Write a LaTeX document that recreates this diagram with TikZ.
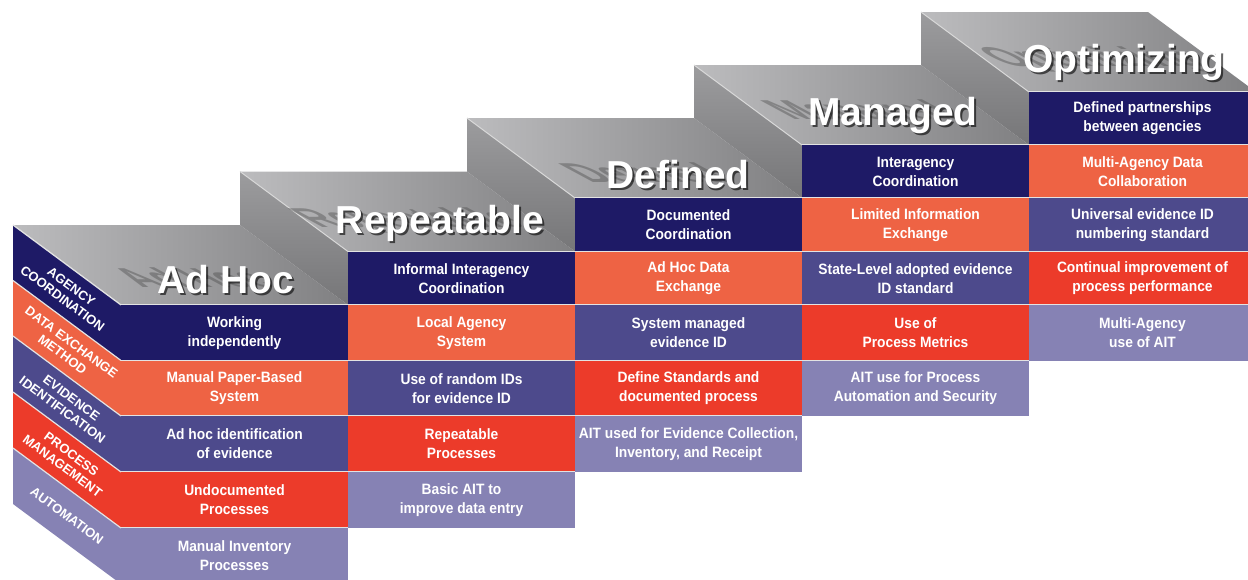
\documentclass[tikz,border=0pt]{standalone}
\usepackage{fontspec}
\setmainfont{Liberation Sans}
\newfontfamily\narrowsans[FakeStretch=0.92]{Liberation Sans}
\usetikzlibrary{positioning}

\definecolor{coordnavy}{RGB}{30,26,102}
\definecolor{datacoral}{RGB}{238,99,68}
\definecolor{idslate}{RGB}{77,74,140}
\definecolor{procred}{RGB}{236,59,42}
\definecolor{autolilac}{RGB}{134,130,180}
\definecolor{stairlight}{RGB}{188,188,190}
\definecolor{stairdark}{RGB}{128,128,130}
\definecolor{risertop}{RGB}{156,156,158}
\definecolor{riserbottom}{RGB}{118,118,120}
\definecolor{ghostgray}{RGB}{70,70,70}

% y levels of the row edges, top to bottom
\newcommand\stairlevels{{92,145,198,251.5,305,360.5,416,472,528,584}}

\tikzset{
  cell/.style={minimum width=227pt, inner sep=0pt, text=white, align=center,
    font=\narrowsans\bfseries\fontsize{15}{19}\selectfont},
  row0/.style={fill=coordnavy},
  row1/.style={fill=datacoral},
  row2/.style={fill=idslate},
  row3/.style={fill=procred},
  row4/.style={fill=autolilac},
  side/.style={text=white, align=center, rotate=-36.5,
    font=\bfseries\fontsize{13}{15}\selectfont},
  title/.style={anchor=base, text=white, font=\bfseries\fontsize{39}{40}\selectfont},
  sep/.style={draw=white!78!gray, line width=1.2pt},
  edge/.style={draw=white!70!gray, line width=1pt},
}

\begin{document}
\begin{tikzpicture}[x=1pt, y=-1pt]
\useasboundingbox (0,0) rectangle (1248,579);
\clip (0,0) rectangle (1248,579);
% stair tops and risers
\foreach \k in {0,...,4}{
  \pgfmathsetmacro\xa{121+227*\k}
  \pgfmathsetmacro\yt{\stairlevels[4-\k]}
  \pgfmathsetmacro\yp{\stairlevels[5-\k]}
  \shade[left color=stairlight, right color=stairdark]
    (\xa,\yt) -- ++(227,0) -- ++(-108,-80) -- ++(-227,0) -- cycle;
  \ifnum\k>0
    \shade[top color=risertop, bottom color=riserbottom]
      (\xa,\yt) -- (\xa,\yp) -- ++(-108,-80) -- (\xa-108,\yt-80) -- cycle;
  \fi
  \draw[edge] (\xa-108,\yt-80) -- (\xa,\yt);
}
% left face
\foreach \r/\txt in {0/{AGENCY\\COORDINATION}, 1/{DATA EXCHANGE\\METHOD},
    2/{EVIDENCE\\IDENTIFICATION}, 3/{PROCESS\\MANAGEMENT}, 4/{AUTOMATION}}{
  \pgfmathsetmacro\ya{\stairlevels[4+\r]}
  \pgfmathsetmacro\yb{\stairlevels[5+\r]}
  \fill[row\r] (121,\ya) -- (121,\yb) -- ++(-108,-80) -- (13,\ya-80) -- cycle;
  \draw[sep] (121,\ya) -- (13,\ya-80);
  \node[side] (s\r) at (67,{(\ya+\yb)/2-40}) {\txt};
}
% front faces
\foreach \k/\r/\txt in {
    0/0/{Working\\independently}, 0/1/{Manual Paper-Based\\System},
    0/2/{Ad hoc identification\\of evidence}, 0/3/{Undocumented\\Processes},
    0/4/{Manual Inventory\\Processes},
    1/0/{Informal Interagency\\Coordination}, 1/1/{Local Agency\\System},
    1/2/{Use of random IDs\\for evidence ID}, 1/3/{Repeatable\\Processes},
    1/4/{Basic AIT to\\improve data entry},
    2/0/{Documented\\Coordination}, 2/1/{Ad Hoc Data\\Exchange},
    2/2/{System managed\\evidence ID}, 2/3/{Define Standards and\\documented process},
    2/4/{AIT used for Evidence Collection,\\Inventory, and Receipt},
    3/0/{Interagency\\Coordination}, 3/1/{Limited Information\\Exchange},
    3/2/{State-Level adopted evidence\\ID standard}, 3/3/{Use of\\Process Metrics},
    3/4/{AIT use for Process\\Automation and Security},
    4/0/{Defined partnerships\\between agencies}, 4/1/{Multi-Agency Data\\Collaboration},
    4/2/{Universal evidence ID\\numbering standard},
    4/3/{Continual improvement of\\process performance},
    4/4/{Multi-Agency\\use of AIT}}{
  \pgfmathsetmacro\xc{121+227*\k+113.5}
  \pgfmathsetmacro\ya{\stairlevels[4-\k+\r]}
  \pgfmathsetmacro\yb{\stairlevels[5-\k+\r]}
  \pgfmathsetmacro\hh{\yb-\ya}
  \node[cell, row\r, minimum height=\hh pt] (c\k\r) at (\xc,{(\ya+\yb)/2}) {\txt};
  \draw[sep] (c\k\r.north west) -- (c\k\r.north east);
}
% titles with their ghost and shadow
\foreach \k/\x/\y/\txt in {0/226/293/Ad Hoc, 1/440/233/Repeatable,
    2/678/188/Defined, 3/893/125/Managed, 4/1124/72/Optimizing}{
  \node[title, text=ghostgray, opacity=.4, yscale=.7, xslant=-1.3] (g\k) at (\x-16,\y-6) {\txt};
  \node[title, text=black, opacity=.6] (h\k) at (\x+2,\y+2) {\txt};
  \node[title] (t\k) at (\x,\y) {\txt};
}
\end{tikzpicture}
\end{document}
